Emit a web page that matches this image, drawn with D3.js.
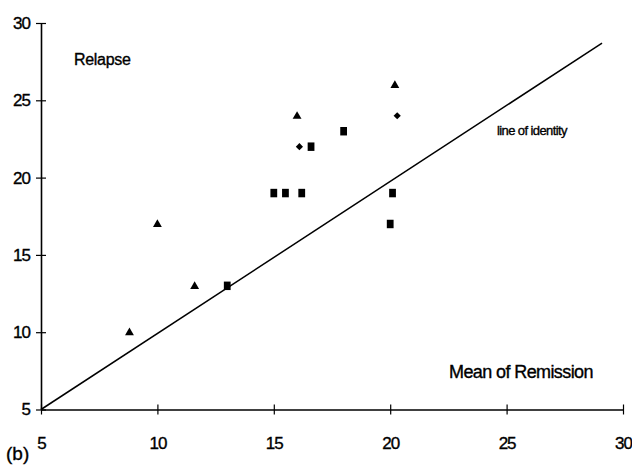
<!DOCTYPE html>
<html>
<head>
<meta charset="utf-8">
<script src="https://cdn.jsdelivr.net/npm/d3@7"></script>
<style>
  html, body { margin: 0; padding: 0; background: #fff; }
  svg { display: block; font-family: "Liberation Sans", Arial, sans-serif; }
  svg text { stroke: #000; stroke-width: 0.35px; fill: #000; }
</style>
</head>
<body>
<div id="chart"></div>
<script>
// ---- data ----
const triangleX = [8.8, 10, 11.6, 16, 20.2];
const triangleY = [10, 17, 13, 24, 26];
const squareX = [13, 15, 15.5, 16.2, 16.6, 18, 20.1, 20];
const squareY = [13, 19, 19, 19, 22, 23, 19, 17];
const diamondX = [16.1, 20.3];
const diamondY = [22, 24];
const identityX = [5, 29.1];
const identityY = [5, 28.7];
const xTicks = [5, 10, 15, 20, 25, 30];
const yTicks = [5, 10, 15, 20, 25, 30];
const xDomain = [5, 30];
const yDomain = [5, 30];

// ---- layout ----
const W = 632, H = 470;
const svg = d3.select("#chart").append("svg").attr("width", W).attr("height", H);

const x = d3.scaleLinear().domain(xDomain).range([41, 623]);
const y = d3.scaleLinear().domain(yDomain).range([409.5, 23]);

// y axis
const yAxis = svg.append("g").attr("transform", `translate(${x(xDomain[0])},0)`)
  .call(d3.axisLeft(y).tickValues(yTicks).tickSize(5).tickPadding(6).tickSizeOuter(0));
yAxis.select(".domain").attr("stroke", "#000").attr("stroke-width", 1.6);
yAxis.selectAll(".tick line").attr("x1", 5).attr("stroke", "#000").attr("stroke-width", 1.2);
yAxis.selectAll(".tick text").attr("font-size", 17).attr("letter-spacing", -1).attr("fill", "#000")
  .attr("font-family", "Liberation Sans, Arial, sans-serif");

// x axis
const xAxis = svg.append("g").attr("transform", `translate(0,${y(yDomain[0])})`)
  .call(d3.axisBottom(x).tickValues(xTicks).tickSize(5).tickPadding(22).tickSizeOuter(0));
xAxis.select(".domain").attr("stroke", "#000").attr("stroke-width", 1.6);
xAxis.selectAll(".tick line").attr("y1", -5).attr("stroke", "#000").attr("stroke-width", 1.2);
xAxis.selectAll(".tick text").attr("font-size", 17).attr("letter-spacing", -1).attr("fill", "#000")
  .attr("font-family", "Liberation Sans, Arial, sans-serif");

// line of identity
const line = d3.line().x(d => x(d[0])).y(d => y(d[1]));
svg.append("path")
  .datum(d3.zip(identityX, identityY))
  .attr("d", line)
  .attr("fill", "none").attr("stroke", "#000").attr("stroke-width", 1.5);

// markers
const tri = d3.symbol().type(d3.symbolTriangle).size(34)();
svg.append("g").selectAll("path").data(d3.zip(triangleX, triangleY)).join("path")
  .attr("d", tri)
  .attr("transform", d => `translate(${x(d[0])},${y(d[1]) + 0.5})`)
  .attr("fill", "#000");

const sq = d3.symbol().type(d3.symbolSquare).size(46)();
svg.append("g").selectAll("path").data(d3.zip(squareX, squareY)).join("path")
  .attr("d", sq)
  .attr("transform", d => `translate(${x(d[0])},${y(d[1])}) scale(1,1.25)`)
  .attr("fill", "#000");

const dm = d3.symbol().type(d3.symbolSquare).size(26)();
svg.append("g").selectAll("path").data(d3.zip(diamondX, diamondY)).join("path")
  .attr("d", dm)
  .attr("transform", d => `translate(${x(d[0])},${y(d[1])}) rotate(45)`)
  .attr("fill", "#000");

// annotations
svg.append("text").attr("x", 74).attr("y", 65).attr("font-size", 16)
  .attr("letter-spacing", -0.3).text("Relapse");
svg.append("text").attr("x", 497).attr("y", 135).attr("font-size", 13)
  .attr("letter-spacing", -0.6).text("line of identity");
svg.append("text").attr("x", 449).attr("y", 378).attr("font-size", 18)
  .attr("letter-spacing", -0.6).text("Mean of Remission");
svg.append("text").attr("x", 6).attr("y", 460).attr("font-size", 19).text("(b)");
</script>
</body>
</html>
